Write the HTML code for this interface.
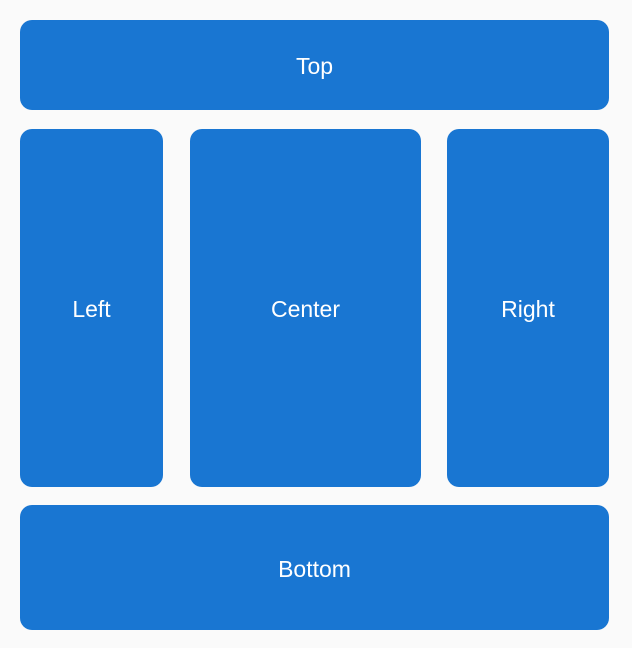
<!DOCTYPE html>
<html><head><style>
body{margin:0;width:632px;height:648px;background:#fafafa;position:relative;overflow:hidden;font-family:"Liberation Sans",sans-serif}
.b{position:absolute;background:#1976d2;border-radius:12px;color:#fff;font-size:23px;display:flex;align-items:center;justify-content:center;box-sizing:border-box;padding-top:3px}
</style></head><body>
<div class="b" style="left:20px;top:20px;width:589px;height:90px">Top</div>
<div class="b" style="left:20px;top:129px;width:143px;height:358px">Left</div>
<div class="b" style="left:190px;top:129px;width:231px;height:358px">Center</div>
<div class="b" style="left:447px;top:129px;width:162px;height:358px">Right</div>
<div class="b" style="left:20px;top:505px;width:589px;height:125px">Bottom</div>
</body></html>
